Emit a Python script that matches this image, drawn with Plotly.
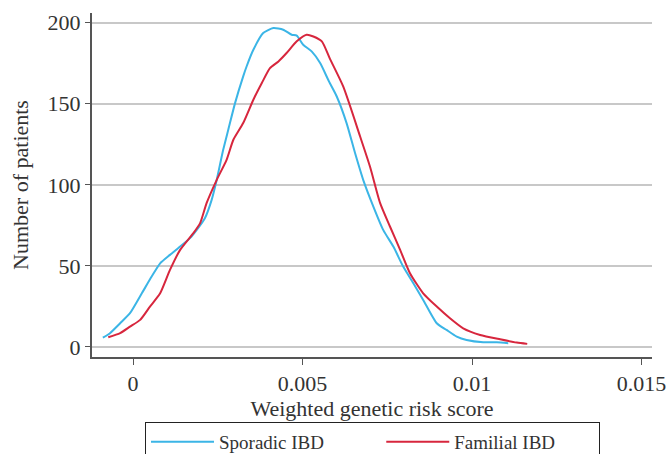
import plotly.graph_objects as go

# Sporadic IBD (x = weighted genetic risk score, y = number of patients)
sporadic_x = [-0.00089, -0.00068, -0.00038, -0.00009, 0.00026, 0.00055, 0.00080, 0.00109, 0.00139,
              0.00168, 0.00188, 0.00212, 0.00232, 0.00247, 0.00266, 0.00281, 0.00301, 0.00325,
              0.00335, 0.00355, 0.00384, 0.00414, 0.00443, 0.00468, 0.00483, 0.00502, 0.00527,
              0.00552, 0.00578, 0.00601, 0.00630, 0.00655, 0.00679, 0.00709, 0.00738, 0.00768,
              0.00797, 0.00827, 0.00856, 0.00896, 0.00925, 0.00955, 0.00984, 0.01033, 0.01073, 0.01107]
sporadic_y = [5.7, 8.5, 14.6, 20.8, 33.1, 43.4, 51.6, 56.8, 61.9,
              67.1, 72.2, 79.4, 90.7, 103.1, 121.6, 134.0, 150.4, 166.9,
              173.0, 183.3, 193.6, 196.7, 195.7, 192.6, 192.0, 186.4, 182.3,
              175.1, 163.8, 154.5, 138.1, 119.6, 103.1, 86.6, 72.2, 61.9,
              49.6, 39.3, 29.0, 14.6, 10.5, 6.4, 4.3, 2.9, 2.9, 2.3]

# Familial IBD
familial_x = [-0.00073, -0.00038, -0.00009, 0.00021, 0.00050, 0.00080, 0.00109, 0.00139, 0.00178,
              0.00198, 0.00217, 0.00247, 0.00276, 0.00296, 0.00325, 0.00355, 0.00380, 0.00404,
              0.00429, 0.00453, 0.00483, 0.00512, 0.00532, 0.00557, 0.00581, 0.00620, 0.00670,
              0.00699, 0.00729, 0.00758, 0.00788, 0.00817, 0.00856, 0.00896, 0.00935, 0.00974,
              0.01024, 0.01083, 0.01132, 0.01163]
familial_y = [6.0, 8.5, 12.5, 16.7, 24.9, 33.1, 47.5, 59.9, 70.2,
              76.4, 88.7, 103.1, 115.4, 127.8, 138.1, 152.5, 162.8, 172.0,
              176.1, 181.3, 188.5, 192.6, 191.5, 188.5, 177.7, 160.7, 129.8,
              111.3, 88.7, 74.3, 59.9, 45.5, 33.1, 24.9, 17.7, 11.5,
              7.4, 4.7, 2.7, 1.9]

series_names = ["Sporadic IBD", "Familial IBD"]
x_ticks = [0, 0.005, 0.01, 0.015]
x_tick_labels = ["0", "0.005", "0.01", "0.015"]
y_ticks = [0, 50, 100, 150, 200]

FONT = "Liberation Serif"
TXT = "#333333"
NB = "\u00a0"

fig = go.Figure()
fig.add_trace(go.Scatter(x=sporadic_x, y=sporadic_y, mode="lines", name=series_names[0] + NB * 11,
                         line=dict(color="#3bb5e6", width=2, shape="spline", smoothing=0.6)))
fig.add_trace(go.Scatter(x=familial_x, y=familial_y, mode="lines", name=series_names[1] + NB * 8,
                         line=dict(color="#d7263d", width=2, shape="spline", smoothing=0.6)))

fig.update_layout(
    width=667, height=454,
    margin=dict(l=92, r=15, t=13, b=97, autoexpand=False),
    paper_bgcolor="white", plot_bgcolor="white",
    font=dict(family=FONT, size=20, color=TXT),
    showlegend=True,
    legend=dict(orientation="h", x=(145 - 92) / 560, xanchor="left",
                y=-(422 - 357) / 344, yanchor="top",
                bordercolor="#222222", borderwidth=1, itemwidth=63,
                font=dict(family=FONT, size=19, color=TXT),
                tracegroupgap=0),
)
fig.update_xaxes(
    range=[-0.00121, 0.01531], tickvals=x_ticks, ticktext=x_tick_labels, automargin=False,
    showgrid=False, zeroline=False, showline=True, linecolor="#555555", linewidth=2,
    ticks="outside", ticklen=6, tickwidth=1, tickcolor="#555555",
    title=dict(text="Weighted genetic risk score", font=dict(family=FONT, size=22, color=TXT), standoff=4),
    tickfont=dict(family=FONT, size=22, color=TXT),
)
fig.update_yaxes(
    range=[-6.2, 206], tickvals=y_ticks, automargin=False,
    showgrid=True, gridcolor="#c8c8c8", gridwidth=2, zeroline=False,
    showline=True, linecolor="#555555", linewidth=2,
    ticks="outside", ticklen=5, tickwidth=1, tickcolor="#555555",
    title=dict(text="Number of patients", font=dict(family=FONT, size=22, color=TXT), standoff=13),
    tickfont=dict(family=FONT, size=22, color=TXT),
)

fig.write_html("out.html", config={"displayModeBar": False},
               post_script="document.body.style.margin='0';")
